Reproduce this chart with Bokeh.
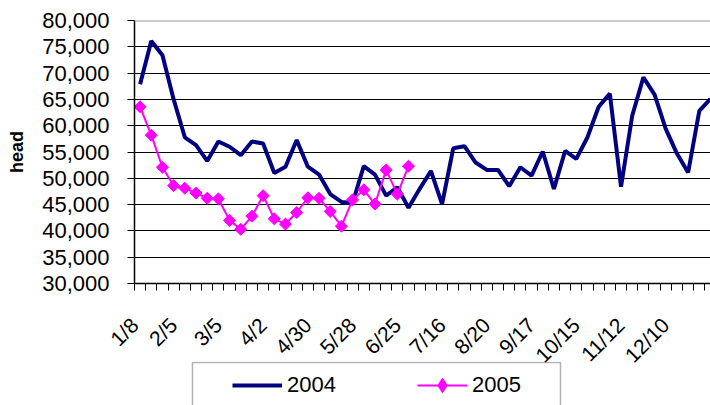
import math

from bokeh.embed import file_html
from bokeh.layouts import column
from bokeh.models import (BoxAnnotation, FixedTicker, Legend, LegendItem, NumeralTickFormatter,
                          Range1d, Span)
from bokeh.plotting import figure
from bokeh.resources import INLINE

# week index 0..51, labels shown every 4th week
weeks = list(range(52))
label_weeks = [0, 4, 8, 12, 16, 20, 24, 28, 32, 36, 40, 44, 48]
tick_labels = ["1/8", "2/5", "3/5", "4/2", "4/30", "5/28", "6/25",
               "7/16", "8/20", "9/17", "10/15", "11/12", "12/10"]

head_2004 = [67900, 76100, 73400, 65000, 57800, 56300, 53300, 57000, 56000, 54400,
             57000, 56600, 51000, 52200, 57300, 52200, 50700, 47000, 45500, 45300,
             52300, 50700, 46700, 48300, 44400, 48000, 51400, 45100, 55700, 56100,
             53000, 51600, 51600, 48500, 52100, 50500, 55100, 48000, 55200, 53700,
             57800, 63600, 66100, 48400, 61900, 69200, 65900, 59400, 54700, 51100,
             62800, 65100]
head_2005 = [63600, 58200, 52100, 48600, 48100, 47200, 46200, 46100, 42000, 40300,
             42800, 46700, 42300, 41300, 43500, 46300, 46200, 43700, 40900, 45900,
             47800, 45100, 51600, 47000, 52300]

FONT = "Liberation Sans"
NAVY = "#000080"
PINK = "#FF00FF"

p = figure(width=710, height=377, output_backend="svg", toolbar_location=None,
           x_range=Range1d(-0.5, 51), y_range=Range1d(30000, 80000),
           min_border_left=134, min_border_right=0, min_border_top=20, min_border_bottom=94)
p.outline_line_color = None
p.background_fill_color = "white"
p.border_fill_alpha = 0

p.line(weeks, head_2004, line_color=NAVY, line_width=4)
p.line(weeks[:len(head_2005)], head_2005, line_color=PINK, line_width=2)
p.scatter(weeks[:len(head_2005)], head_2005, marker="square", angle=math.pi / 4,
          size=8.5, fill_color=PINK, line_color=PINK)

# y axis
p.yaxis.ticker = FixedTicker(ticks=list(range(30000, 80001, 5000)))
p.yaxis.formatter = NumeralTickFormatter(format="0,0")
p.yaxis.major_tick_out = 7
p.yaxis.major_tick_in = 0
p.yaxis.minor_tick_line_color = None
p.yaxis.major_label_standoff = 18
p.yaxis.major_label_text_font = FONT
p.yaxis.major_label_text_font_size = "22px"
p.yaxis.major_label_text_color = "black"
p.yaxis.axis_line_width = 1.5
p.yaxis.axis_label = "head"
p.yaxis.axis_label_text_font = FONT
p.yaxis.axis_label_text_font_style = "bold"
p.yaxis.axis_label_text_font_size = "18px"
p.yaxis.axis_label_text_color = "black"
p.yaxis.axis_label_standoff = 12

# x axis: labels set a little left of the week centres, tick marks between weeks
label_pos = [max(w - 1.02, -0.49) for w in label_weeks]
p.xaxis.ticker = FixedTicker(ticks=label_pos, minor_ticks=[w - 0.5 for w in weeks])
p.xaxis.major_label_overrides = {x: t for x, t in zip(label_pos, tick_labels)}
p.xaxis.major_tick_out = 0
p.xaxis.major_tick_in = 0
p.xaxis.minor_tick_out = 7
p.xaxis.minor_tick_in = 0
p.xaxis.minor_tick_line_color = "black"
p.xaxis.major_label_orientation = math.pi / 4
p.xaxis.major_label_standoff = 31
p.xaxis.major_label_text_font = FONT
p.xaxis.major_label_text_font_size = "21px"
p.xaxis.major_label_text_color = "black"
p.xaxis.axis_line_width = 1.5

p.xgrid.grid_line_color = None
p.ygrid.grid_line_color = "black"
p.ygrid.grid_line_width = 1
p.add_layout(Span(location=80000, dimension="width", line_color="#999999", line_width=2))

# legend strip pulled up under the tick labels; ranges here are in pixels
# (x from the plot's left edge, y from the strip's top)
q = figure(width=710, height=44, output_backend="svg", toolbar_location=None,
           x_axis_location=None, y_axis_location=None,
           x_range=Range1d(0, 576), y_range=Range1d(44, 0),
           min_border_left=0, min_border_right=0, min_border_top=0, min_border_bottom=0)
q.margin = (-16, 0, 0, 0)
q.styles = {"position": "relative", "z-index": "1"}
q.outline_line_color = None
q.border_fill_alpha = 0
q.background_fill_alpha = 0
q.xgrid.visible = False
q.ygrid.visible = False

# legend frame, open past the bottom of the picture
q.add_layout(BoxAnnotation(left=58, right=426, top=1, bottom=80,
                           fill_color="white", fill_alpha=1,
                           line_color="black", line_width=1.5))

# legend keys share the line styles; their values lie far outside this strip's y range
k04 = q.line(weeks, head_2004, line_color=NAVY, line_width=4)
k05 = q.line(weeks[:len(head_2005)], head_2005, line_color=PINK, line_width=2)
d05 = q.scatter(weeks[:len(head_2005)], head_2005, marker="diamond",
                fill_color=PINK, line_color=PINK)

leg = Legend(items=[LegendItem(label="2004", renderers=[k04]),
                    LegendItem(label="2005", renderers=[k05, d05])],
             orientation="horizontal", location=(98, 2), padding=0, margin=0,
             spacing=78, glyph_width=50, glyph_height=36, label_height=36,
             label_width=52, label_standoff=5, label_text_font=FONT,
             label_text_font_size="22px", label_text_color="black",
             border_line_color=None, background_fill_alpha=0)
q.add_layout(leg)

layout = column(p, q, spacing=0)
open("out.html", "w").write(file_html(layout, INLINE))
